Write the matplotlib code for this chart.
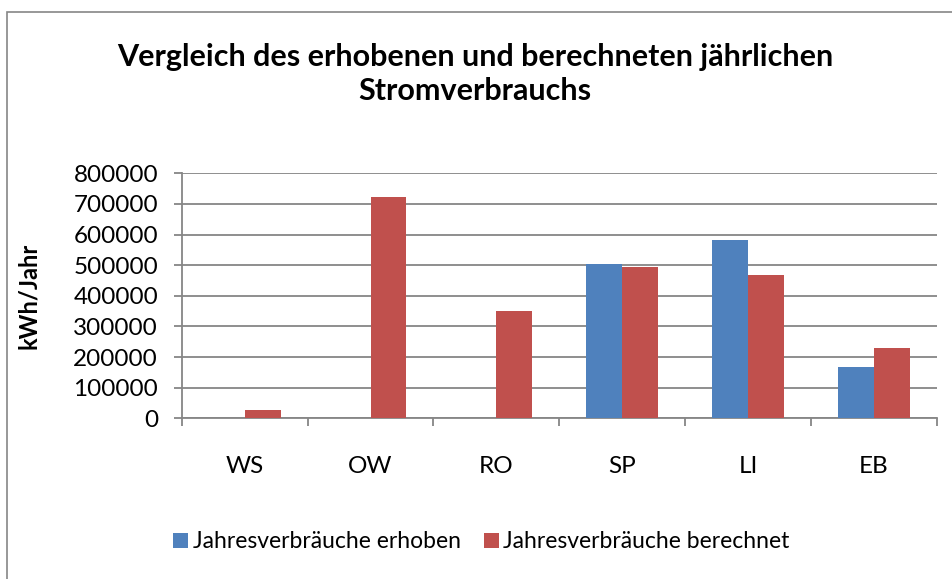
import matplotlib.pyplot as plt
import numpy as np

plt.rcParams['font.family'] = ['Lato', 'DejaVu Sans']

# data
categories = ['WS', 'OW', 'RO', 'SP', 'LI', 'EB']
erhoben = [0, 0, 0, 505000, 583000, 166000]
berechnet = [27000, 723000, 349000, 495000, 469000, 228000]
yticks = [0, 100000, 200000, 300000, 400000, 500000, 600000, 700000, 800000]

W, H = 952, 579
fig = plt.figure(figsize=(W / 100, H / 100), dpi=100)

# outer chart border (only top and left visible, the image is cropped)
fig.patches.append(plt.Rectangle((6.5 / W, -0.5), 2, 1.5 - 11.7 / H,
                                 transform=fig.transFigure, fill=False,
                                 edgecolor='#868686', lw=1.2))

left, right, top, bottom = 181.7, 937, 173.3, 418.3
ax = fig.add_axes([left / W, 1 - bottom / H, (right - left) / W, (bottom - top) / H])

x = np.arange(len(categories))
bw = 1 / 3.5
ax.bar(x - bw / 2, erhoben, bw, color='#4F81BD', label='Jahresverbräuche erhoben', zorder=3)
ax.bar(x + bw / 2, berechnet, bw, color='#C0504D', label='Jahresverbräuche berechnet', zorder=3)

ax.set_xlim(-0.5, len(categories) - 0.5)
ax.set_ylim(0, 800000)
ax.set_yticks(yticks)
ax.set_yticklabels([str(v) for v in yticks], fontsize=17.5)
ax.yaxis.grid(True, color='#868686', lw=1.3, zorder=0)

ax.set_xticks(x)
ax.set_xticklabels(categories, fontsize=17.5)
ax.set_xticks(np.arange(-0.5, len(categories)), minor=True)
ax.tick_params(axis='x', which='major', length=0, pad=27)
ax.tick_params(axis='x', which='minor', length=6, color='#868686', width=1.3)
ax.tick_params(axis='y', length=6, color='#868686', width=1.3, pad=11)

for s in ['top', 'right']:
    ax.spines[s].set_visible(False)
for s in ['left', 'bottom']:
    ax.spines[s].set_color('#868686')
    ax.spines[s].set_linewidth(1.3)

ax.set_ylabel('kWh/Jahr', fontsize=17, fontweight='bold')
ax.yaxis.set_label_coords((40 - left) / (right - left), 0.5)

fig.text(475 / W, 1 - 74 / H, 'Vergleich des erhobenen und berechneten jährlichen\nStromverbrauchs',
         ha='center', va='center', fontsize=22, fontweight='bold', linespacing=1.3)

fig.legend(loc='center', bbox_to_anchor=(481.5 / W, 1 - 542 / H), ncol=2, frameon=False,
           fontsize=16.5, handlelength=0.65, handleheight=0.65, handletextpad=0.2,
           columnspacing=1.0)

fig.savefig('out.png', dpi=100)
